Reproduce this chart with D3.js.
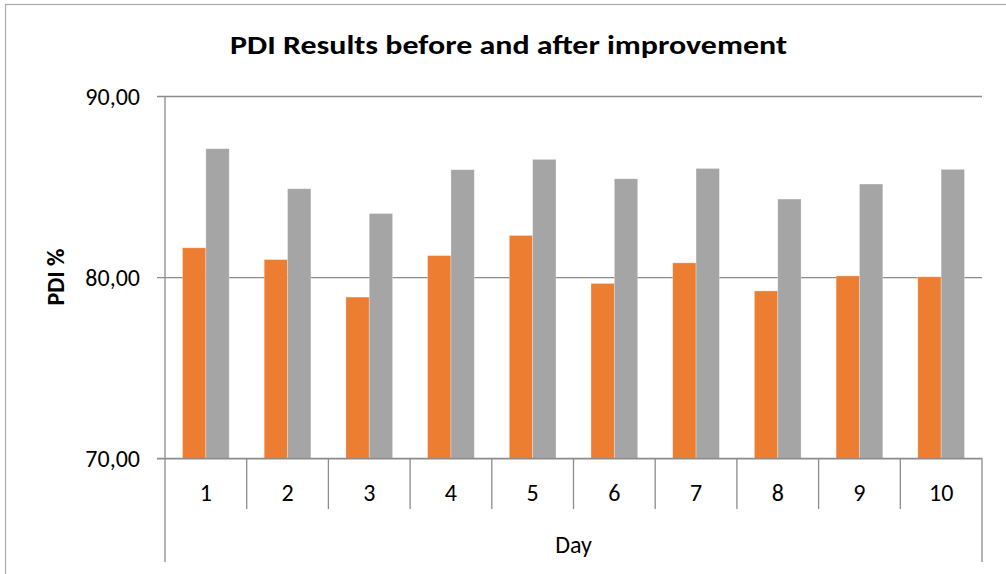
<!DOCTYPE html>
<html>
<head>
<meta charset="utf-8">
<script src="https://cdn.jsdelivr.net/npm/d3@7"></script>
<style>
  html, body { margin: 0; padding: 0; background: #fff; }
  svg { display: block; }
  text { font-family: Carlito, Calibri, Lato, "Open Sans", sans-serif; fill: #000; }
</style>
</head>
<body>
<svg id="chart" width="1006" height="574"></svg>
<script>
const days = ["1", "2", "3", "4", "5", "6", "7", "8", "9", "10"];
const seriesNames = ["Before", "After"];
const beforeValues = [81.62, 80.97, 78.90, 81.19, 82.30, 79.65, 80.79, 79.24, 80.07, 80.02];
const afterValues  = [87.09, 84.88, 83.51, 85.93, 86.50, 85.43, 86.00, 84.31, 85.14, 85.95];
const yTicks = [70, 80, 90];
const colors = ["#ED7D31", "#A5A5A5"];
const titleText = "PDI Results before and after improvement";
const yTitle = "PDI %";
const xTitle = "Day";

(function () {
const svg = d3.select("#chart");
const W = 1006, H = 574;
const pLeft = 165, pRight = 982, pTop = 96, pBottom = 458.3;

// outer frame
svg.append("rect").attr("x", 5.5).attr("y", 4.5).attr("width", W + 10).attr("height", H + 10)
  .attr("fill", "none").attr("stroke", "#ABABAB").attr("stroke-width", 1.2);

const x = d3.scaleBand().domain(days).range([pLeft, pRight]).paddingInner(0).paddingOuter(0);
// Excel gap width 150% -> inner group = 2/3.5 of band
const groupPad = 1.5 / 3.5;
const x1 = d3.scaleBand().domain(seriesNames)
  .range([x.bandwidth() * groupPad / 2, x.bandwidth() * (1 - groupPad / 2)]).padding(0);
const y = d3.scaleLinear().domain([70, 90]).range([pBottom, pTop]);

// gridlines + y ticks
const yAxis = d3.axisLeft(y).tickValues(yTicks).tickSize(pRight - pLeft + 8)
  .tickFormat(d => d3.format(".2f")(d).replace(".", ","));
const gy = svg.append("g").attr("transform", `translate(${pRight},0)`).call(yAxis);
gy.attr("font-family", null).attr("font-size", null);
gy.select(".domain").remove();
gy.selectAll(".tick line").attr("stroke", "#8C8C8C").attr("stroke-width", 1.3);
gy.selectAll(".tick text").attr("x", -(pRight - pLeft) - 25).attr("dy", "0.35em")
  .style("font-size", "24px").attr("text-anchor", "end").attr("fill", "#000");

// bars
const data = days.map((d, i) => ({ day: d, values: [beforeValues[i], afterValues[i]] }));
const groups = svg.append("g").selectAll("g").data(data).join("g")
  .attr("transform", d => `translate(${x(d.day)},0)`);
groups.selectAll("rect").data(d => d.values.map((v, j) => ({ s: seriesNames[j], v, j })))
  .join("rect")
  .attr("x", d => x1(d.s))
  .attr("width", x1.bandwidth())
  .attr("y", d => y(d.v))
  .attr("height", d => y(70) - y(d.v))
  .attr("fill", d => colors[d.j])
  .attr("stroke", "#ffffff").attr("stroke-opacity", 0.35).attr("stroke-width", 0.8);

// baseline redraw on top
svg.append("line").attr("x1", pLeft - 8).attr("x2", pRight).attr("y1", pBottom).attr("y2", pBottom)
  .attr("stroke", "#8C8C8C").attr("stroke-width", 1.3);

// left axis line
svg.append("line").attr("x1", pLeft).attr("x2", pLeft).attr("y1", pTop).attr("y2", 562)
  .attr("stroke", "#8C8C8C").attr("stroke-width", 1.3);
// right border line of category axis
svg.append("line").attr("x1", pRight).attr("x2", pRight).attr("y1", pBottom).attr("y2", 562)
  .attr("stroke", "#8C8C8C").attr("stroke-width", 1.3);

// category separators
const seps = days.slice(1);
svg.append("g").selectAll("line").data(seps).join("line")
  .attr("x1", d => x(d)).attr("x2", d => x(d))
  .attr("y1", pBottom).attr("y2", 509)
  .attr("stroke", "#8C8C8C").attr("stroke-width", 1.3);

// category labels
svg.append("g").selectAll("text").data(days).join("text")
  .attr("x", d => x(d) + x.bandwidth() / 2).attr("y", 500.5)
  .attr("text-anchor", "middle").style("font-size", "24px").text(d => d);

// x title
svg.append("text").attr("x", (pLeft + pRight) / 2).attr("y", 553)
  .attr("text-anchor", "middle").style("font-size", "24px").text(xTitle);

// y title
svg.append("text").attr("transform", "translate(64,277) rotate(-90)")
  .attr("text-anchor", "middle").style("font-size", "24px").style("font-weight", "bold").text(yTitle);

// chart title
svg.append("text").attr("x", 508.5).attr("y", 53.5)
  .attr("text-anchor", "middle").style("font-size", "27px").style("font-weight", "bold")
  .attr("textLength", 557).attr("lengthAdjust", "spacingAndGlyphs").text(titleText);
})();
</script>
</body>
</html>
